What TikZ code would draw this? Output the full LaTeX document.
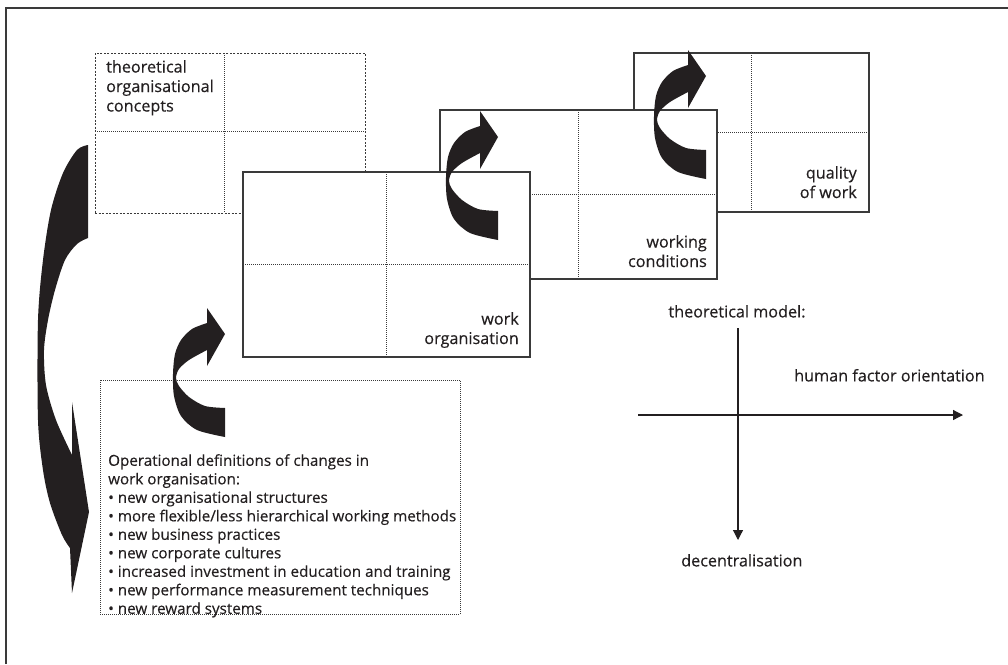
\documentclass[tikz,border=0pt]{standalone}
\usepackage{fontspec}
\setmainfont{Open Sans}[FakeBold=0.35]
\usetikzlibrary{arrows.meta}
\definecolor{ink}{HTML}{231F20}
\definecolor{rule}{HTML}{3A3A3A}

\begin{document}
\begin{tikzpicture}[x=1pt,y=-1pt,
  panel/.style={draw=rule, line width=1.3pt, fill=white, inner sep=0pt, outer sep=0pt},
  divider/.style={draw=rule, line width=0.9pt, dash pattern=on 1pt off 1pt},
  dashedpanel/.style={draw=rule, line width=0.9pt, dash pattern=on 2pt off 1.5pt, fill=white, inner sep=0pt, outer sep=0pt},
  dottedpanel/.style={draw=rule, line width=0.9pt, dash pattern=on 1pt off 1pt, inner sep=0pt, outer sep=0pt},
  label/.style={inner sep=0pt, text=ink, font=\fontsize{16.2}{19.5}\selectfont},
  listtext/.style={inner sep=0pt, text=ink, font=\fontsize{15.2}{18.5}\selectfont},
  axis/.style={draw=ink, line width=1.2pt, -{Triangle[length=10pt,width=10pt]}},
  bendarrow/.pic={
    \fill[ink] (0,0) -- (-18,-26) -- (-18,-11)
      -- plot[smooth] coordinates {(-18,-11) (-33,-5) (-44,6) (-50,20) (-52,40) (-51,62) (-44,82) (-28,96) (0,103)}
      -- (0,74)
      -- plot[smooth] coordinates {(0,74) (-20,72) (-36,63) (-46,52) (-49,44) (-46,35) (-36,26) (-18,16)}
      -- (-18,32) -- cycle;
  },
]
\useasboundingbox (0,0) rectangle (1008,664);

% outer frame
\draw[rule, line width=1.4pt] (6,664) -- (6,8) -- (1008,8);

% concept panel (back)
\node[dashedpanel, minimum width=270pt, minimum height=160pt] (concepts) at (230,133) {};
\draw[divider] (concepts.north -| 224,0) -- (concepts.south -| 224,0);
\draw[divider] (concepts.west |- 0,131) -- (concepts.east |- 0,131);
\node[label, align=left, anchor=north west] (conceptstext) at (106,60)
  {theoretical\\organisational\\concepts};

% quality of work panel
\node[panel, minimum width=235pt, minimum height=159pt] (quality) at (751.5,132.5) {};
\draw[divider] (quality.north) -- (quality.south);
\draw[divider] (quality.west) -- (quality.east);
\node[label, align=right, anchor=north east] (qualitytext) at (857,166) {quality\\of work};

% working conditions panel
\node[panel, minimum width=277pt, minimum height=169pt] (conditions) at (578.5,194.5) {};
\draw[divider] (conditions.north) -- (conditions.south);
\draw[divider] (conditions.west) -- (conditions.east);
\node[label, align=right, anchor=north east] (conditionstext) at (707,235) {working\\conditions};

% work organisation panel (front)
\node[panel, minimum width=287pt, minimum height=185pt] (workorg) at (386.5,264.5) {};
\draw[divider] (workorg.north) -- (workorg.south);
\draw[divider] (workorg.west) -- (workorg.east);
\node[label, align=right, anchor=north east] (workorgtext) at (519,312) {work\\organisation};

% operational definitions
\node[dottedpanel, minimum width=360pt, minimum height=234pt] (ops) at (280,497) {};
\node[listtext, align=left, anchor=north west] (opstext) at (108,454)
  {Operational definitions of changes in\\
   work organisation:\\
   • new organisational structures\\
   • more flexible/less hierarchical working methods\\
   • new business practices\\
   • new corporate cultures\\
   • increased investment in education and training\\
   • new performance measurement techniques\\
   • new reward systems};

% turning arrows
\pic (turnA) at (225,334) {bendarrow};
\pic (turnB) at (498,137) {bendarrow};
\pic (turnC) at (706,76) {bendarrow};

% long feedback arrow on the left
\fill[ink] (88,145) -- (88,238)
  -- plot[smooth] coordinates {(88,238) (77,244) (65,260) (55,290) (48,320) (44,350) (46,385) (56,420) (72,455)}
  -- (72,402) -- (89,512) -- (72,593) -- (70,548)
  -- plot[smooth] coordinates {(70,548) (62,535) (50,503) (43,470) (38,420) (38,320) (43,260) (51,210) (63,173) (77,150) (88,145)}
  -- cycle;

% theoretical model axes
\coordinate (hl) at (638,415);
\coordinate (hr) at (963,415);
\coordinate (vt) at (738,328);
\coordinate (vb) at (738,540);
\draw[axis] (hl) -- (hr);
\draw[axis] (vt) -- (vb);
\node[label, anchor=base] (model) at (737,317.4) {theoretical model:};
\node[label, anchor=base west] (human) at (794,381.4) {human factor orientation};
\node[label, anchor=base west] (decent) at (681,566.4) {decentralisation};
\end{tikzpicture}
\end{document}
